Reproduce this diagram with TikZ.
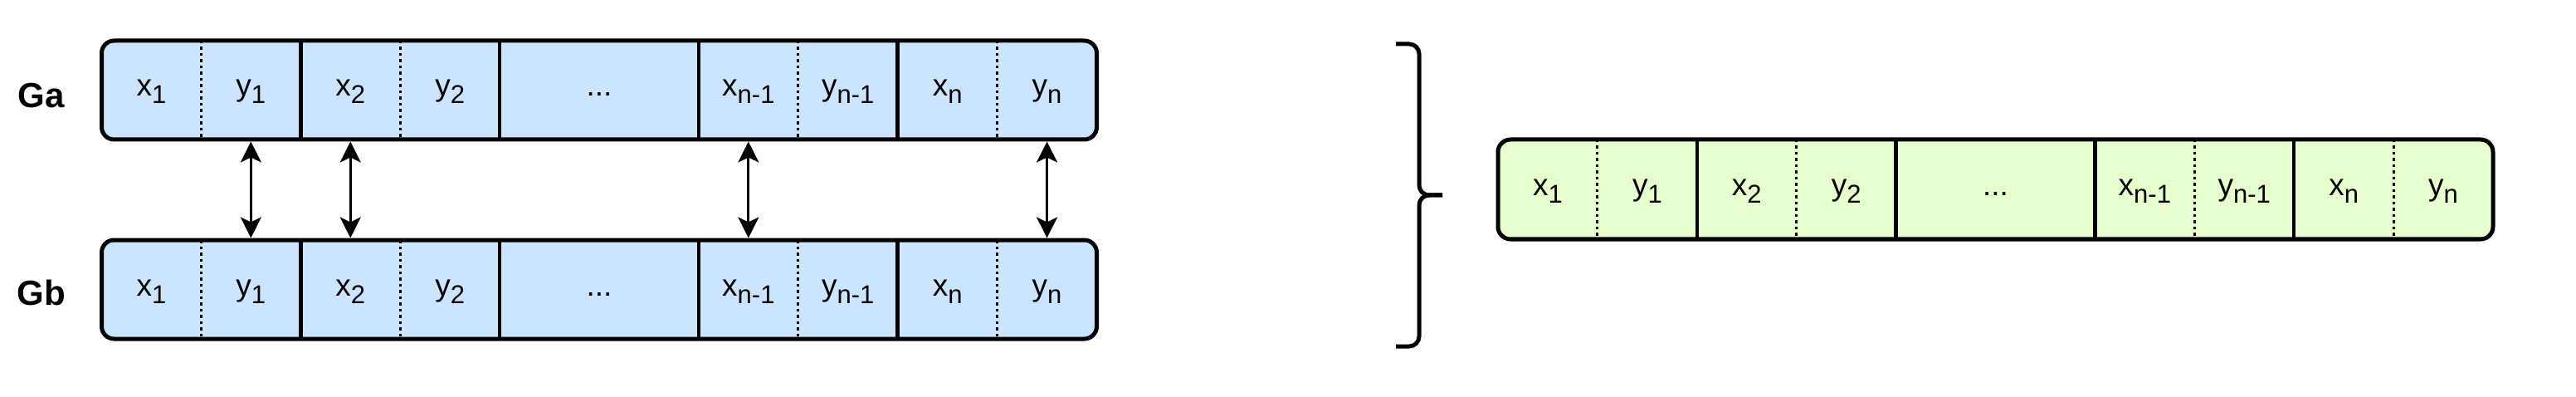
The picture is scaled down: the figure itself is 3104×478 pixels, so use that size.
\documentclass[tikz,border=0pt]{standalone}
\usepackage{fontspec}
\setmainfont{Liberation Sans}
\usetikzlibrary{arrows.meta}
\definecolor{cellblue}{HTML}{CCE5FF}
\definecolor{cellgreen}{HTML}{E6FFCC}
\newcommand\lbl[2]{#1\raisebox{-9pt}{\fontsize{31}{31}\selectfont #2}}
\tikzset{
  barbox/.style={draw=black, line width=5pt, rounded corners=15pt},
  half/.style={inner sep=0pt, outer sep=0pt, minimum width=119.9pt, text height=15pt, text depth=0pt, font=\fontsize{37}{40}\selectfont},
  solidsep/.style={line width=4.5pt},
  dotsep/.style={line width=3pt, dash pattern=on 3.5pt off 4pt},
  link/.style={line width=3pt, {Stealth[length=25pt,width=25pt,inset=6pt]}-{Stealth[length=25pt,width=25pt,inset=6pt]}, shorten <=2.5pt, shorten >=2.5pt},
  glabel/.style={font=\fontsize{42}{44}\selectfont\bfseries, anchor=base, inner sep=0pt},
  bracepath/.style={line width=5pt, rounded corners=12pt}
}
% prefix, x0, ytop, height, fill
\newcommand\mybar[5]{%
 \begin{scope}[shift={(#2,#3)}]
  \fill[#5, rounded corners=15pt] (0,0) rectangle (1199,#4);
  \node[half, minimum height=#4pt] (#1-x1) at (59.95,#4/2) {\lbl{x}{1}};
  \node[half, minimum height=#4pt] (#1-y1) at (179.85,#4/2) {\lbl{y}{1}};
  \node[half, minimum height=#4pt] (#1-x2) at (299.75,#4/2) {\lbl{x}{2}};
  \node[half, minimum height=#4pt] (#1-y2) at (419.65,#4/2) {\lbl{y}{2}};
  \node[half, minimum height=#4pt, minimum width=239.8pt] (#1-dots) at (599.5,#4/2) {...};
  \node[half, minimum height=#4pt] (#1-xn1) at (779.35,#4/2) {\lbl{x}{n-1}};
  \node[half, minimum height=#4pt] (#1-yn1) at (899.25,#4/2) {\lbl{y}{n-1}};
  \node[half, minimum height=#4pt] (#1-xn) at (1019.15,#4/2) {\lbl{x}{n}};
  \node[half, minimum height=#4pt] (#1-yn) at (1139.05,#4/2) {\lbl{y}{n}};
  \foreach \c in {x1,x2,xn1,xn}
    \draw[dotsep] (#1-\c.north east) -- (#1-\c.south east);
  \foreach \c in {y1,y2,dots,yn1}
    \draw[solidsep] (#1-\c.north east) -- (#1-\c.south east);
  \draw[barbox] (0,0) rectangle (1199,#4);
 \end{scope}}
\begin{document}
\begin{tikzpicture}[x=1pt,y=-1pt]
\useasboundingbox (0,0) rectangle (3104,478);
\mybar{A}{122.5}{49}{119}{cellblue}
\mybar{B}{122.5}{289}{119}{cellblue}
\mybar{C}{1805}{168}{120}{cellgreen}
\node[glabel] (ga) at (50,130) {Ga};
\node[glabel] (gb) at (50,367) {Gb};
\foreach \c in {y1,x2,xn1,yn}
  \draw[link] (A-\c.south) -- (B-\c.north);
\draw[bracepath] (1682,53) -- (1710,53) -- (1710,235) -- (1738,235);
\draw[bracepath] (1682,417) -- (1710,417) -- (1710,235) -- (1738,235);
\end{tikzpicture}
\end{document}
